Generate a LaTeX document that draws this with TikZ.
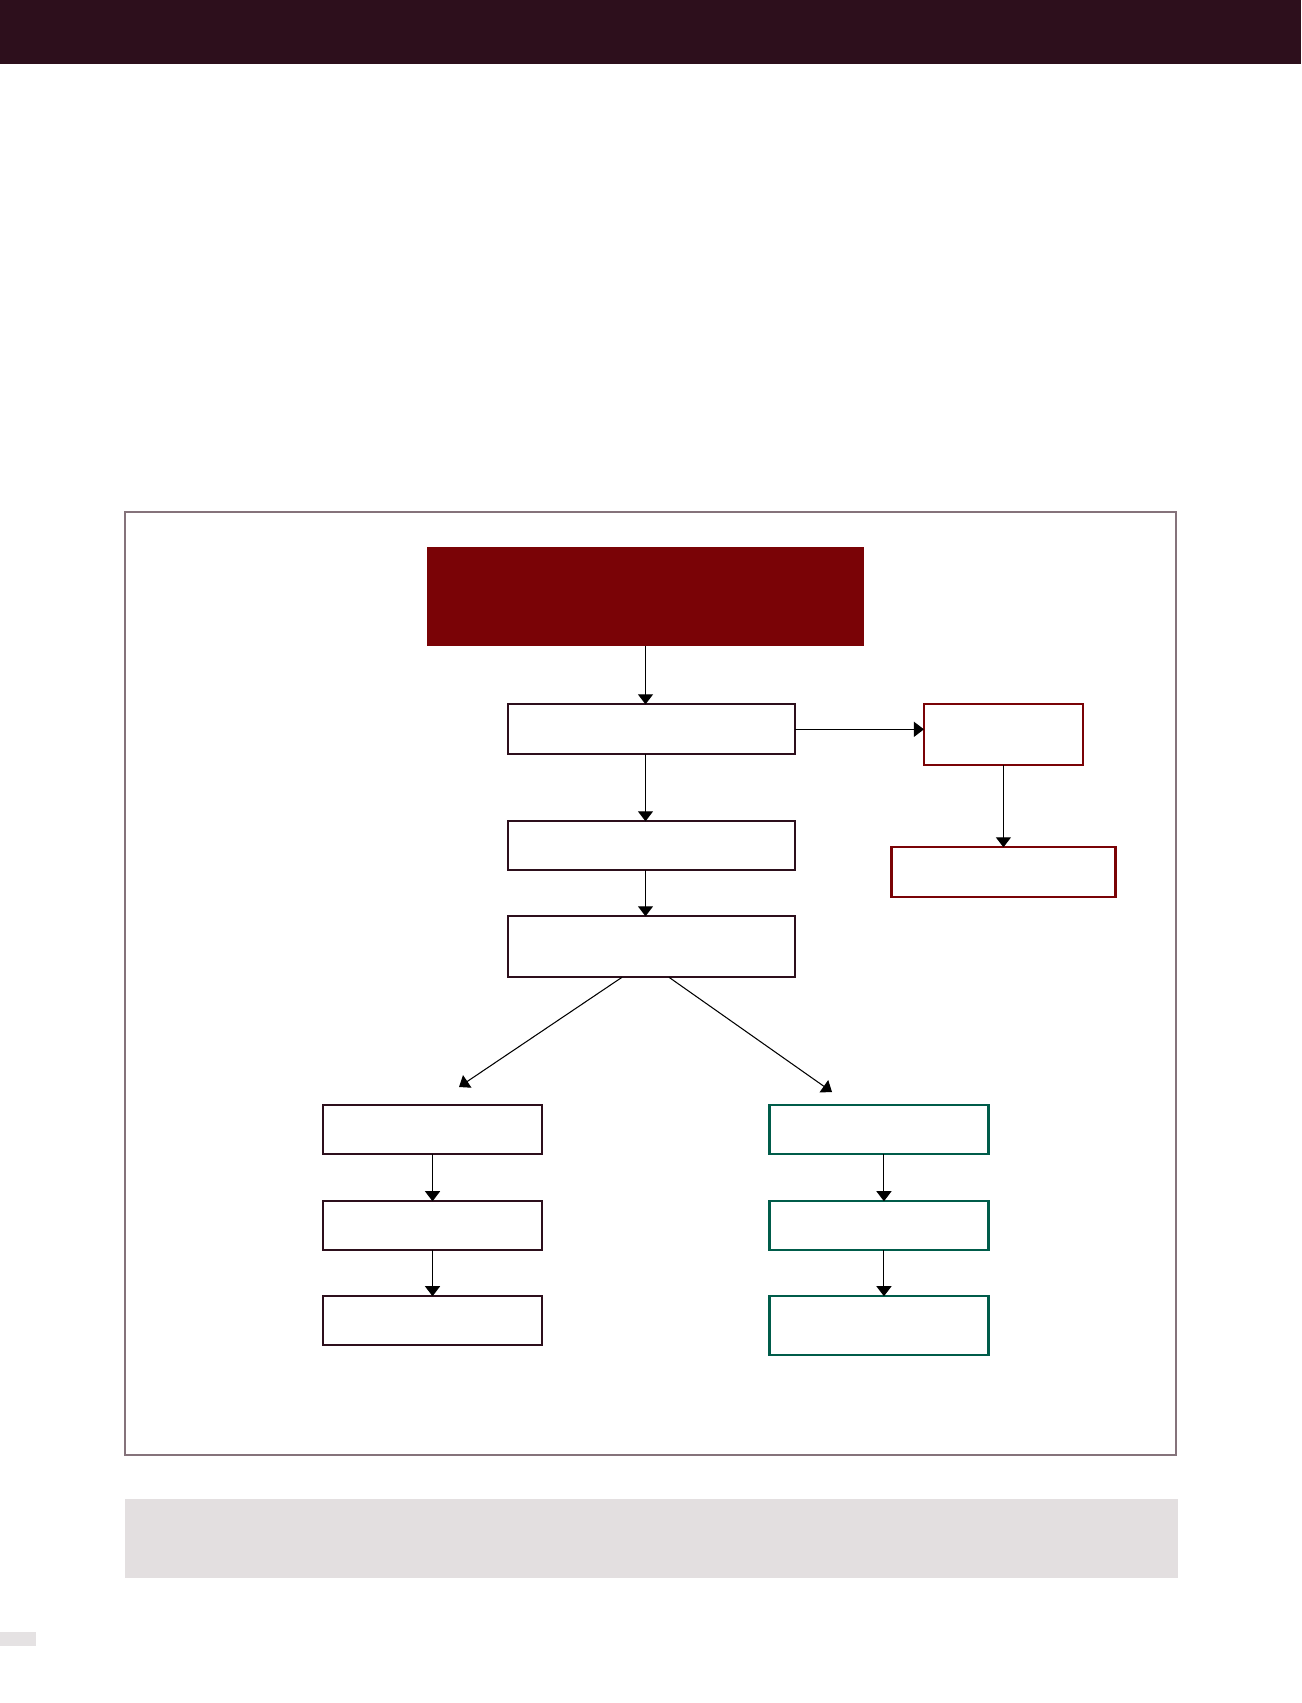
\documentclass[tikz,border=0pt]{standalone}
\usepackage{tikz}
\usetikzlibrary{arrows.meta,positioning}
\definecolor{plum}{HTML}{2D0F1C}
\definecolor{wine}{HTML}{7A0306}
\definecolor{teal}{HTML}{005C4A}
\definecolor{mist}{HTML}{E3DFE0}
\definecolor{frame}{HTML}{85737B}
\begin{document}
\begin{tikzpicture}[x=0.02cm,y=-0.02cm,box/.style={draw=plum,line width=1.3pt,inner sep=0pt,outer sep=0pt,minimum width=5.74cm},redbox/.style={box,draw=wine},greenbox/.style={box,draw=teal},colbox/.style={minimum width=4.38cm,minimum height=0.98cm},arr/.style={line width=0.6pt,-{Triangle[length=2mm,width=3mm]}}]
\useasboundingbox (0,0) rectangle (1301,1703);
% page furniture
\fill[plum] (0,0) rectangle (1301,64);
\draw[frame,line width=0.8pt] (125,512) rectangle (1176,1455);
\fill[mist] (125,1499) rectangle (1178,1578);
\fill[mist!80!plum!40] (0,1632) rectangle (36,1646);
% chart
\node[draw=none,fill=wine,minimum width=8.74cm,minimum height=1.98cm,inner sep=0pt] (top) at (645.5,596.5) {};
\node[box,minimum height=1cm,below=1.16cm of top,xshift=0.12cm] (b1) {};
\node[box,minimum height=0.98cm,below=1.34cm of b1] (b2) {};
\node[box,minimum height=1.22cm,below=0.92cm of b2] (b3) {};
\node[redbox,minimum width=3.18cm,minimum height=1.22cm,right=2.58cm of b1.north east,anchor=north west] (a1) {};
\node[redbox,minimum width=4.48cm,minimum height=1cm,below=1.64cm of a1] (a2) {};
\node[box,colbox,below=2.56cm of b3,xshift=-4.38cm] (l1) {};
\node[box,colbox,below=0.94cm of l1] (l2) {};
\node[box,colbox,below=0.92cm of l2] (l3) {};
\node[greenbox,colbox,below=2.56cm of b3,xshift=4.55cm] (r1) {};
\node[greenbox,colbox,below=0.94cm of r1] (r2) {};
\node[greenbox,colbox,minimum height=1.18cm,below=0.92cm of r2] (r3) {};
\coordinate (lt) at (459,1087);
\coordinate (rt) at (832,1092);
\draw[arr](top.south)--(top.south |- b1.north);\draw[arr](top.south |- b1.south)--(top.south |- b2.north);\draw[arr](top.south |- b2.south)--(top.south |- b3.north);
\draw[arr](b1.east)--(b1.east -| a1.west);\draw[arr](a1.south)--(a2.north);
\draw[arr]([xshift=-0.59cm]b3.south)--(lt);\draw[arr]([xshift=0.35cm]b3.south)--(rt);
\draw[arr](l1)--(l2);\draw[arr](l2)--(l3);
\draw[arr]([xshift=0.1cm]r1.south)--([xshift=0.1cm]r2.north);\draw[arr]([xshift=0.1cm]r2.south)--([xshift=0.1cm]r3.north);
\end{tikzpicture}
\end{document}
